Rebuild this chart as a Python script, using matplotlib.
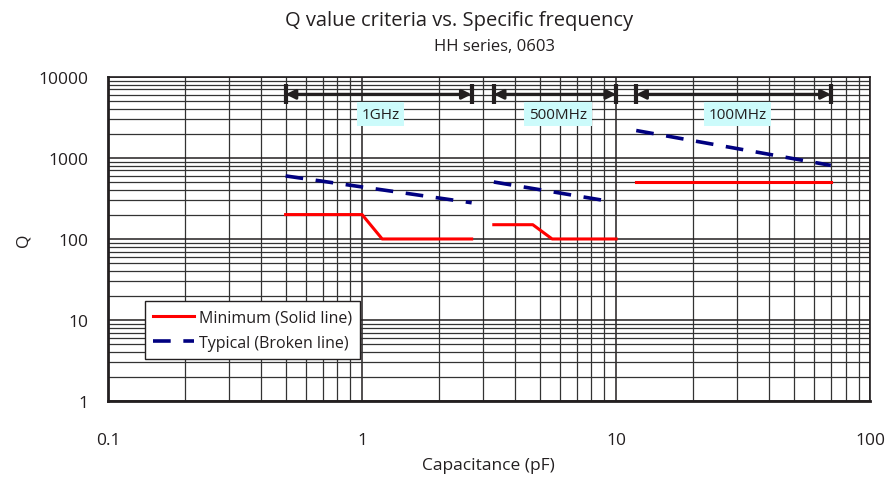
import matplotlib
matplotlib.use("Agg")
import matplotlib.pyplot as plt
from matplotlib.ticker import LogLocator, NullFormatter, FixedLocator, FixedFormatter

plt.rcParams['font.family'] = ['Open Sans', 'DejaVu Sans']

# --- data ---
min_1g_c = [0.5, 1.0, 1.2, 2.7]
min_1g_q = [200, 200, 100, 100]
min_500m_c = [3.3, 4.7, 5.6, 10]
min_500m_q = [150, 150, 100, 100]
min_100m_c = [12, 70]
min_100m_q = [500, 500]

typ_1g_c = [0.5, 2.7]
typ_1g_q = [600, 280]
typ_500m_c = [3.3, 9.5]
typ_500m_q = [505, 290]
typ_100m_c = [12, 70]
typ_100m_q = [2180, 810]

bands = ["1GHz", "500MHz", "100MHz"]
band_lo = [0.5, 3.3, 12]
band_hi = [2.7, 10, 70]
band_label_x = [1.18, 5.9, 30]

xticks = [0.1, 1, 10, 100]
xticklabels = ["0.1", "1", "10", "100"]
yticks = [1, 10, 100, 1000, 10000]
yticklabels = ["1", "10", "100", "1000", "10000"]

RED = "#ff0000"
NAVY = "#000080"
INK = "#231f20"

fig = plt.figure(figsize=(8.87, 4.81), dpi=100)
ax = fig.add_axes([0.1218, 0.1642, 0.8592, 0.6738])
ax.set_xscale("log"); ax.set_yscale("log")
ax.set_xlim(0.1, 100); ax.set_ylim(1, 10000)

ax.xaxis.set_major_locator(FixedLocator(xticks))
ax.xaxis.set_major_formatter(FixedFormatter(xticklabels))
ax.yaxis.set_major_locator(FixedLocator(yticks))
ax.yaxis.set_major_formatter(FixedFormatter(yticklabels))
ax.xaxis.set_minor_locator(LogLocator(base=10, subs=range(2, 10)))
ax.yaxis.set_minor_locator(LogLocator(base=10, subs=range(2, 10)))
ax.xaxis.set_minor_formatter(NullFormatter())
ax.yaxis.set_minor_formatter(NullFormatter())
ax.tick_params(which="both", length=0, labelsize=12.5, colors=INK)
ax.tick_params(axis="x", pad=22)
ax.tick_params(axis="y", pad=14)
ax.grid(which="major", color=INK, linewidth=1.1)
ax.grid(which="minor", color="#333333", linewidth=0.9)
ax.set_axisbelow(True)
for s in ax.spines.values():
    s.set_color(INK)
ax.spines["left"].set_linewidth(2.0)
ax.spines["bottom"].set_linewidth(2.0)
ax.spines["top"].set_linewidth(1.2)
ax.spines["right"].set_linewidth(1.2)

dash = (4.9, 3.5)
ax.plot(min_1g_c, min_1g_q, color=RED, lw=2.2, label="Minimum (Solid line)", zorder=4)
ax.plot(min_500m_c, min_500m_q, color=RED, lw=2.2, zorder=4)
ax.plot(min_100m_c, min_100m_q, color=RED, lw=2.2, zorder=4)
ax.plot(typ_1g_c, typ_1g_q, color=NAVY, lw=2.6, dashes=dash, label="Typical (Broken line)", zorder=4)
ax.plot(typ_500m_c, typ_500m_q, color=NAVY, lw=2.6, dashes=dash, zorder=4)
ax.plot(typ_100m_c, typ_100m_q, color=NAVY, lw=2.6, dashes=dash, zorder=4)

# frequency band arrows
arrow_q = 6100
for name, lo, hi, lx in zip(bands, band_lo, band_hi, band_label_x):
    ax.annotate("", xy=(hi, arrow_q), xytext=(lo, arrow_q),
                arrowprops=dict(arrowstyle="<|-|>", color=INK, lw=2.2,
                                mutation_scale=14, shrinkA=0, shrinkB=0), zorder=5)
    ax.plot([lo, hi], [arrow_q, arrow_q], ls="none", marker="|", ms=14, mew=3,
            color=INK, zorder=5)
    ax.text(lx, 3450, name, ha="center", va="center", fontsize=11, color=INK,
            bbox=dict(boxstyle="square,pad=0.3", fc="#ccfbfb", ec="none"), zorder=5)

leg = ax.legend(loc="lower left", bbox_to_anchor=(0.038, 0.105), fontsize=11.5,
                frameon=True, fancybox=False, edgecolor=INK, framealpha=1,
                handlelength=2.6, handletextpad=0.3, borderpad=0.5, labelspacing=0.6)
leg.get_frame().set_linewidth(1.0)
for t in leg.get_texts():
    t.set_color(INK)

fig.text(0.551, 0.031, "Capacitance (pF)", ha="center", va="center",
         fontsize=12.5, color=INK)
fig.text(0.026, 0.50, "Q", ha="center", va="center", rotation=90,
         fontsize=12.5, color=INK)

fig.text(0.517, 0.957, "Q value criteria vs. Specific frequency", ha="center",
         va="center", fontsize=14.5, color=INK)
fig.text(0.557, 0.902, "HH series, 0603", ha="center", va="center",
         fontsize=12, color=INK)

fig.savefig("out.png", dpi=100)
